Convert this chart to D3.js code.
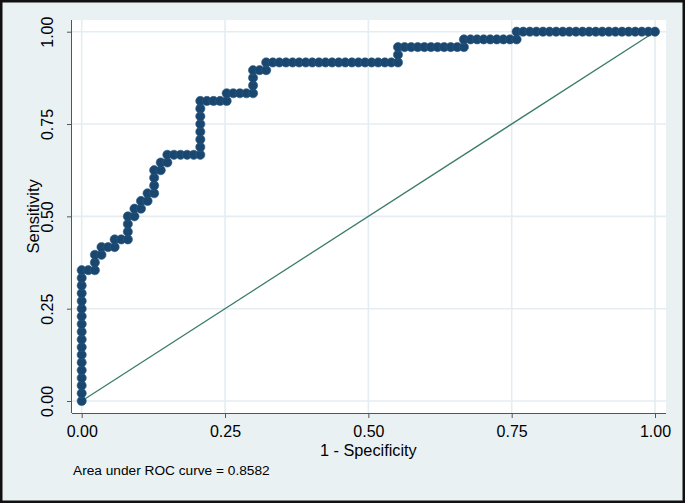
<!DOCTYPE html>
<html>
<head>
<meta charset="utf-8">
<script src="https://cdn.jsdelivr.net/npm/d3@7"></script>
<style>
  html, body { margin: 0; padding: 0; background: #ffffff; }
  svg { display: block; }
  text { font-family: "Liberation Sans", Arial, sans-serif; fill: #000; }
</style>
</head>
<body>
<svg id="chart" width="685" height="503"></svg>
<script>
// ---- data ----
const oneMinusSpecificity = [
  0,0,0,0,0,0,0,0,0,0,0,0,0,0,0,0,0,0,
  0.0115,0.0230,
  0.0230,0.0230,
  0.0345,0.0345,
  0.0460,0.0575,
  0.0575,0.0690,0.0805,
  0.0805,0.0805,0.0805,
  0.0920,0.0920,
  0.1034,0.1034,
  0.1149,0.1149,
  0.1264,0.1264,0.1264,0.1264,
  0.1379,0.1379,
  0.1494,0.1494,
  0.1609,0.1724,0.1839,0.1954,0.2069,
  0.2069,0.2069,0.2069,0.2069,0.2069,0.2069,0.2069,
  0.2184,0.2299,0.2414,0.2529,
  0.2529,
  0.2644,0.2759,0.2874,0.2989,
  0.2989,0.2989,0.2989,
  0.3103,0.3218,
  0.3218,
  0.3333,0.3448,0.3563,0.3678,0.3793,0.3908,0.4023,0.4138,0.4253,0.4368,
  0.4483,0.4598,0.4713,0.4828,0.4943,0.5057,0.5172,0.5287,0.5402,0.5517,
  0.5517,0.5517,
  0.5632,0.5747,0.5862,0.5977,0.6092,0.6207,0.6322,0.6437,0.6552,0.6667,
  0.6667,
  0.6782,0.6897,0.7011,0.7126,0.7241,0.7356,0.7471,0.7586,
  0.7586,
  0.7701,0.7816,0.7931,0.8046,0.8161,0.8276,0.8391,0.8506,0.8621,0.8736,
  0.8851,0.8966,0.9080,0.9195,0.9310,0.9425,0.9540,0.9655,0.9770,0.9885,1
];
const sensitivity = [
  0,0.0208,0.0417,0.0625,0.0833,0.1042,0.1250,0.1458,0.1667,0.1875,0.2083,0.2292,0.2500,0.2708,0.2917,0.3125,0.3333,0.3542,
  0.3542,0.3542,
  0.3750,0.3958,
  0.3958,0.4167,
  0.4167,0.4167,
  0.4375,0.4375,0.4375,
  0.4583,0.4792,0.5000,
  0.5000,0.5208,
  0.5208,0.5417,
  0.5417,0.5625,
  0.5625,0.5833,0.6042,0.6250,
  0.6250,0.6458,
  0.6458,0.6667,
  0.6667,0.6667,0.6667,0.6667,0.6667,
  0.6875,0.7083,0.7292,0.7500,0.7708,0.7917,0.8125,
  0.8125,0.8125,0.8125,0.8125,
  0.8333,
  0.8333,0.8333,0.8333,0.8333,
  0.8542,0.8750,0.8958,
  0.8958,0.8958,
  0.9167,
  0.9167,0.9167,0.9167,0.9167,0.9167,0.9167,0.9167,0.9167,0.9167,0.9167,
  0.9167,0.9167,0.9167,0.9167,0.9167,0.9167,0.9167,0.9167,0.9167,0.9167,
  0.9375,0.9583,
  0.9583,0.9583,0.9583,0.9583,0.9583,0.9583,0.9583,0.9583,0.9583,0.9583,
  0.9792,
  0.9792,0.9792,0.9792,0.9792,0.9792,0.9792,0.9792,0.9792,
  1,
  1,1,1,1,1,1,1,1,1,1,
  1,1,1,1,1,1,1,1,1,1,1
];
const referenceX = [0, 1];
const referenceY = [0, 1];
const tickValues = [0, 0.25, 0.5, 0.75, 1];
const tickLabels = ["0.00", "0.25", "0.50", "0.75", "1.00"];
const xTitle = "1 - Specificity";
const yTitle = "Sensitivity";
const noteText = "Area under ROC curve = 0.8582";

// ---- layout ----
const W = 685, H = 503;
const plotLeft = 72, plotRight = 666, plotTop = 20, plotBottom = 413;
const svg = d3.select("#chart");

svg.append("rect").attr("x", 0).attr("y", 0).attr("width", W).attr("height", H)
  .attr("fill", "#eaf1f3");
svg.append("rect").attr("x", 1.25).attr("y", 1.25).attr("width", W - 2.5).attr("height", H - 2.5)
  .attr("fill", "none").attr("stroke", "#111").attr("stroke-width", 2.5);

svg.append("rect").attr("x", plotLeft).attr("y", plotTop)
  .attr("width", plotRight - plotLeft).attr("height", plotBottom - plotTop)
  .attr("fill", "#ffffff");

const x = d3.scaleLinear().domain([0, 1]).range([81.7, 655]);
const y = d3.scaleLinear().domain([0, 1]).range([401, 31.7]);

// gridlines
const grid = svg.append("g");
grid.selectAll("line.h").data(tickValues).join("line")
  .attr("x1", plotLeft).attr("x2", plotRight)
  .attr("y1", d => y(d)).attr("y2", d => y(d))
  .attr("stroke", "#e4edf1").attr("stroke-width", 1.6);
grid.selectAll("line.v").data(tickValues).join("line")
  .attr("y1", plotTop).attr("y2", plotBottom)
  .attr("x1", d => x(d)).attr("x2", d => x(d))
  .attr("stroke", "#e4edf1").attr("stroke-width", 1.6);

// axes
const fmt = (d) => tickLabels[tickValues.indexOf(d)];
const xAxis = svg.append("g").attr("transform", `translate(0,${plotBottom})`)
  .call(d3.axisBottom(x).tickValues(tickValues).tickFormat(fmt).tickSize(5).tickSizeOuter(0));
xAxis.select(".domain").remove();
xAxis.append("line").attr("x1", plotLeft).attr("x2", plotRight).attr("y1", 0.5).attr("y2", 0.5)
  .attr("stroke", "#555").attr("stroke-width", 1);
xAxis.selectAll(".tick line").attr("stroke", "#555");
xAxis.selectAll(".tick text").attr("y", 24).attr("dy", 0)
  .style("font-size", "16px").attr("fill", "#000");

const yAxis = svg.append("g").attr("transform", `translate(${plotLeft},0)`)
  .call(d3.axisLeft(y).tickValues(tickValues).tickFormat(fmt).tickSize(5).tickSizeOuter(0));
yAxis.select(".domain").remove();
yAxis.append("line").attr("x1", -0.5).attr("x2", -0.5).attr("y1", plotTop).attr("y2", plotBottom)
  .attr("stroke", "#555").attr("stroke-width", 1);
yAxis.selectAll(".tick line").attr("stroke", "#555");
yAxis.selectAll(".tick text")
  .attr("transform", "rotate(-90)")
  .attr("x", 0).attr("y", -19).attr("dy", 0)
  .attr("text-anchor", "middle")
  .style("font-size", "16px").attr("fill", "#000");

// titles
svg.append("text").attr("x", (x(0) + x(1)) / 2).attr("y", 455.5)
  .attr("text-anchor", "middle").style("font-size", "16.3px").text(xTitle);
svg.append("text").attr("transform", `translate(38.5,${(y(0) + y(1)) / 2}) rotate(-90)`)
  .attr("text-anchor", "middle").style("font-size", "16.5px").text(yTitle);
svg.append("text").attr("x", 73).attr("y", 475)
  .style("font-size", "13.7px").text(noteText);

// reference line
svg.append("path")
  .datum(referenceX.map((v, i) => [v, referenceY[i]]))
  .attr("fill", "none").attr("stroke", "#3b7c6b").attr("stroke-width", 1.3)
  .attr("d", d3.line().x(d => x(d[0])).y(d => y(d[1])));

// ROC curve
const pts = oneMinusSpecificity.map((v, i) => [v, sensitivity[i]]);
svg.append("path").datum(pts)
  .attr("fill", "none").attr("stroke", "#1a476f").attr("stroke-width", 1.2)
  .attr("d", d3.line().x(d => x(d[0])).y(d => y(d[1])));
svg.append("g").selectAll("circle").data(pts).join("circle")
  .attr("cx", d => x(d[0])).attr("cy", d => y(d[1])).attr("r", 4.6)
  .attr("fill", "#1a476f").attr("stroke", "#2b5a82").attr("stroke-width", 0.6);
</script>
</body>
</html>
